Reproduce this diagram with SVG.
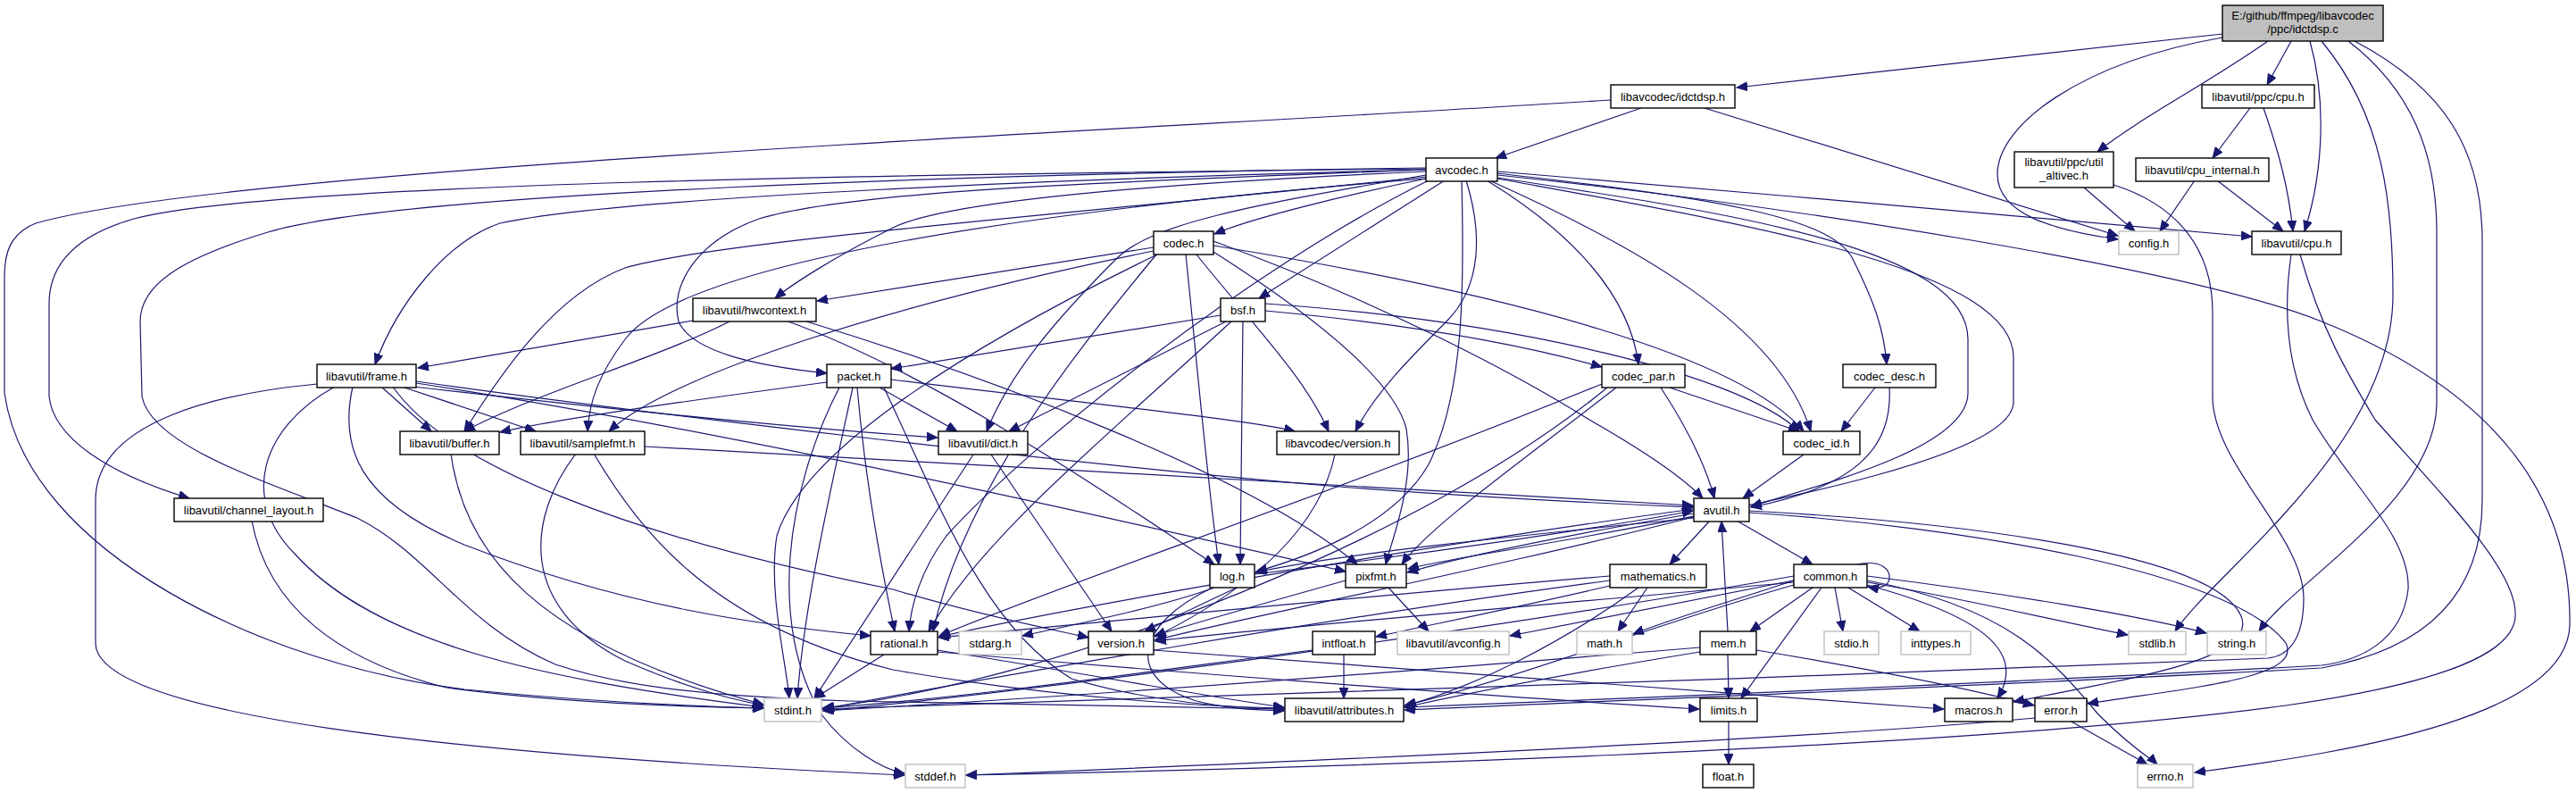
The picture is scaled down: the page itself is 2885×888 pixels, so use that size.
<svg xmlns="http://www.w3.org/2000/svg" width="2885" height="888" viewBox="0 0 2885 888">
<defs>
<marker id="a" markerUnits="userSpaceOnUse" markerWidth="13" markerHeight="11" refX="12" refY="5" orient="auto">
<path d="M0,0 L12,5 L0,10 z" fill="#191970" stroke="#191970" stroke-width="1"/>
</marker>
<style>
.n rect{fill:#fff;stroke:#000;stroke-width:1.4}
.n.g rect{stroke:#bfbfbf}
.n.r rect{fill:#bfbfbf}
text{font-family:"Liberation Sans",Arial,Helvetica,sans-serif;font-size:13px;text-anchor:middle;fill:#000}
#edges path{fill:none;stroke:#191970;stroke-width:1.2;marker-end:url(#a)}
</style>
</defs>
<rect width="2885" height="888" fill="#fff"/>
<g id="edges">
<path d="M2489,38 L1945,98"/>
<path d="M2489,42 C2330,70 2237,140 2237,195 C2237,240 2300,258 2372,268"/>
<path d="M2540,46 C2470,95 2400,130 2349,170"/>
<path d="M2566,46 L2539,95"/>
<path d="M2587,46 C2605,110 2603,190 2581,259"/>
<path d="M2600,46 C2670,130 2680,230 2680,330 C2680,500 2480,640 2436,707"/>
<path d="M2630,46 C2700,100 2729,170 2729,260 L2729,450 C2729,560 2570,650 2530,707"/>
<path d="M2637,46 C2740,100 2780,170 2780,270 L2780,560 C2780,680 2700,730 2600,748 C2300,765 1800,785 1573,795"/>
<path d="M1838,121 L1675,177"/>
<path d="M1909,121 L2372,264"/>
<path d="M1804,112 C1200,150 250,190 40,250 C10,262 5,285 5,310 L5,440 C30,620 300,745 520,772 C650,785 780,791 855,793"/>
<path d="M2520,121 L2478,177"/>
<path d="M2535,121 C2552,170 2563,210 2568,259"/>
<path d="M2458,202 L2419,259"/>
<path d="M2483,202 L2557,259"/>
<path d="M2334,210 L2391,259"/>
<path d="M2367,207 C2440,230 2478,280 2478,350 L2478,444 C2478,520 2580,600 2580,670 C2580,720 2560,735 2540,737 C2000,760 1200,785 921,794"/>
<path d="M2566,285 C2555,360 2565,420 2590,470 C2630,540 2700,600 2697,660 C2690,720 2640,740 2600,745 C2300,762 1800,783 1573,792"/>
<path d="M2576,285 C2600,370 2630,420 2660,470 C2740,560 2820,640 2817,690 C2815,740 2700,770 2560,790 C2200,840 1400,862 1082,868"/>
<path d="M1677,196 C2000,230 2450,300 2600,360 C2800,440 2880,560 2878,700 C2875,800 2650,840 2458,865"/>
<path d="M1677,192 C1950,215 2300,245 2522,265"/>
<path d="M1677,199 C1950,240 2204,280 2204,380 L2204,440 C2204,500 2050,540 1961,567"/>
<path d="M1677,200 C1950,250 2255,300 2255,400 L2255,450 C2255,510 2000,560 1780,600 C1680,618 1610,628 1577,637"/>
<path d="M1677,194 C1900,220 2050,240 2075,290 C2100,340 2110,370 2113,408"/>
<path d="M1668,202 C1820,270 1990,360 2028,483"/>
<path d="M1665,202 C1760,260 1825,330 1835,408"/>
<path d="M1618,202 L1410,334"/>
<path d="M1597,200 C1500,220 1400,245 1360,262"/>
<path d="M1597,192 C1300,205 1060,225 1000,255 C930,290 885,320 868,334"/>
<path d="M1597,190 C1200,200 700,220 560,250 C500,270 445,340 420,408"/>
<path d="M1597,189 C1000,195 300,205 150,245 C80,265 55,300 55,340 L55,444 C60,490 120,530 212,558"/>
<path d="M1597,188 C1100,195 450,215 300,260 C200,290 157,320 157,360 L159,444 C170,500 300,540 400,580 C480,620 520,700 622,744 C700,770 800,780 950,785 C1150,790 1350,792 1438,794"/>
<path d="M1597,198 C1200,240 800,270 700,300 C620,330 560,420 520,483"/>
<path d="M1597,200 C1100,240 760,300 700,380 C670,420 660,450 658,483"/>
<path d="M1597,196 C1400,230 1290,250 1250,290 C1180,360 1130,420 1105,483"/>
<path d="M1637,202 C1640,320 1640,440 1600,520 C1560,590 1460,625 1407,640"/>
<path d="M1600,202 C1400,300 1150,500 1060,600 C1030,640 1020,680 1018,707"/>
<path d="M1597,190 C1200,205 950,215 850,245 C780,270 750,320 760,360 C775,395 850,410 926,418"/>
<path d="M1642,202 C1660,260 1660,320 1620,360 C1580,400 1540,440 1518,483"/>
<path d="M1296,285 C1100,380 900,500 870,600 C860,660 880,740 884,782"/>
<path d="M1359,270 C1550,340 1700,420 1780,470 C1850,510 1890,540 1907,558"/>
<path d="M1292,277 L915,337"/>
<path d="M1328,285 C1340,400 1350,520 1365,632"/>
<path d="M1359,282 C1450,340 1560,420 1575,480 C1585,540 1560,600 1552,632"/>
<path d="M1295,285 C1200,400 1080,550 1045,707"/>
<path d="M1292,281 C1000,340 750,420 682,483"/>
<path d="M1359,275 C1700,330 1950,400 2020,483"/>
<path d="M1340,285 C1400,360 1460,420 1488,483"/>
<path d="M1375,359 L1130,483"/>
<path d="M1392,359 L1389,632"/>
<path d="M1380,359 C1250,480 1100,600 1040,707"/>
<path d="M1417,340 C1700,360 1950,420 2015,483"/>
<path d="M1417,348 C1600,365 1720,390 1794,411"/>
<path d="M1367,353 L998,413"/>
<path d="M1800,434 C1600,600 1200,760 921,793"/>
<path d="M1860,434 C1890,480 1910,520 1920,558"/>
<path d="M1794,430 C1500,550 1200,650 1052,712"/>
<path d="M1810,434 C1700,520 1600,590 1570,632"/>
<path d="M1870,434 L2015,483"/>
<path d="M2100,434 L2062,483"/>
<path d="M2116,434 C2120,500 2080,545 1961,568"/>
<path d="M2020,509 L1952,558"/>
<path d="M940,434 C880,550 860,700 920,800 C950,840 990,862 1013,866"/>
<path d="M955,434 C930,550 900,680 893,782"/>
<path d="M990,434 C1050,560 1100,700 1200,760 C1300,790 1400,793 1438,794"/>
<path d="M926,428 C760,450 620,470 560,484"/>
<path d="M985,434 L1072,483"/>
<path d="M960,434 C970,550 990,650 1002,707"/>
<path d="M998,425 C1200,450 1400,470 1450,483"/>
<path d="M1495,509 C1480,580 1420,650 1294,713"/>
<path d="M819,359 C740,400 600,440 520,483"/>
<path d="M776,359 L468,412"/>
<path d="M880,359 C1050,420 1250,560 1360,632"/>
<path d="M900,359 C1100,420 1400,530 1520,632"/>
<path d="M355,430 C250,440 107,470 107,560 L107,720 C107,800 500,845 1013,868"/>
<path d="M375,433 C290,480 270,560 330,620 C420,720 600,760 855,792"/>
<path d="M466,427 C700,460 1200,520 1500,545 C1700,560 1850,566 1897,568"/>
<path d="M427,433 L483,483"/>
<path d="M463,433 C700,460 900,480 1050,490"/>
<path d="M395,433 C380,500 400,560 520,610 C700,680 850,700 975,712"/>
<path d="M450,433 L600,483"/>
<path d="M466,429 C800,480 1200,570 1507,640"/>
<path d="M440,433 C500,520 700,600 1000,660 C1100,690 1180,705 1219,714"/>
<path d="M505,508 C520,620 600,720 855,789"/>
<path d="M645,508 C590,580 580,680 700,740 C780,775 830,785 855,790"/>
<path d="M722,500 C1100,520 1600,550 1896,566"/>
<path d="M665,508 C720,600 800,700 1000,750 C1200,785 1380,792 1438,793"/>
<path d="M1090,509 L912,782"/>
<path d="M1110,509 L1245,707"/>
<path d="M282,583 C300,680 380,740 500,770 C650,790 800,792 855,793"/>
<path d="M1945,583 L2030,632"/>
<path d="M1959,574 C2200,590 2500,640 2560,720 C2580,760 2450,770 2338,788"/>
<path d="M1897,570 C1600,610 1200,680 1052,713"/>
<path d="M1900,578 C1700,630 1400,690 1293,717"/>
<path d="M1959,572 C2200,585 2480,620 2510,690 C2530,740 2380,760 2255,786"/>
<path d="M1915,583 L1870,632"/>
<path d="M1897,580 C1700,600 1500,620 1406,641"/>
<path d="M1897,575 C1750,600 1650,620 1576,641"/>
<path d="M1360,658 C1300,680 1200,700 1145,712"/>
<path d="M1405,643 C1600,620 1800,590 1896,572"/>
<path d="M1358,658 C1270,700 1260,760 1340,785 C1380,795 1410,795 1438,796"/>
<path d="M1385,658 L1282,707"/>
<path d="M1555,658 L1600,707"/>
<path d="M1507,650 C1400,680 1330,700 1293,712"/>
<path d="M1803,650 C1500,690 1100,760 922,794"/>
<path d="M1845,658 L1812,707"/>
<path d="M1835,658 C1750,720 1650,770 1574,790"/>
<path d="M1803,645 C1500,670 1200,700 1051,714"/>
<path d="M1803,656 C1700,680 1600,700 1541,713"/>
<path d="M2091,650 C2250,680 2300,740 2350,800 C2390,840 2410,850 2416,856"/>
<path d="M2070,658 L2150,707"/>
<path d="M2040,658 L1950,782"/>
<path d="M2009,650 C1950,670 1880,690 1829,710"/>
<path d="M2009,645 C1700,700 1200,770 922,796"/>
<path d="M2055,658 L2064,707"/>
<path d="M2091,652 C2200,670 2300,695 2383,711"/>
<path d="M2091,645 C2250,665 2400,690 2471,709"/>
<path d="M2009,655 C1850,700 1700,760 1573,790"/>
<path d="M2091,655 C2220,690 2270,730 2237,782"/>
<path d="M2009,652 C1700,680 1400,705 1294,718"/>
<path d="M2009,650 C1850,680 1750,700 1691,712"/>
<path d="M2080,632 C2110,626 2117,640 2116,648 C2115,656 2106,660 2092,657"/>
<path d="M2030,658 L1960,707"/>
<path d="M990,733 L912,782"/>
<path d="M1050,730 C1400,760 1750,785 1903,794"/>
<path d="M1050,728 C1250,760 1380,785 1438,792"/>
<path d="M1292,728 C1700,760 2000,780 2177,794"/>
<path d="M1470,728 C1300,750 1100,780 922,793"/>
<path d="M1505,733 L1505,782"/>
<path d="M1935,733 L1936,782"/>
<path d="M1904,725 C1600,750 1200,780 922,796"/>
<path d="M1904,730 C1750,755 1650,775 1573,792"/>
<path d="M1967,728 C2100,750 2200,770 2278,790"/>
<path d="M1935,707 L1928,584"/>
<path d="M1936,807 L1936,856"/>
<path d="M2318,807 L2405,856"/>
<path d="M2279,804 C2000,830 1400,855 1082,868"/>
</g>
<g id="root" class="n r"><rect x="2489" y="6" width="180" height="40"/><text x="2579" y="21.5">E:/github/ffmpeg/libavcodec</text><text x="2579" y="36.5">/ppc/idctdsp.c</text></g>
<g id="idctdsp" class="n"><rect x="1804" y="95" width="139" height="26"/><text x="1873.5" y="112.5">libavcodec/idctdsp.h</text></g>
<g id="ppc_cpu" class="n"><rect x="2466" y="95" width="126" height="26"/><text x="2529" y="112.5">libavutil/ppc/cpu.h</text></g>
<g id="util_altivec" class="n"><rect x="2256" y="170" width="111" height="40"/><text x="2311.5" y="186">libavutil/ppc/util</text><text x="2311.5" y="201">_altivec.h</text></g>
<g id="cpu_internal" class="n"><rect x="2392" y="177" width="149" height="26"/><text x="2466.5" y="194.5">libavutil/cpu_internal.h</text></g>
<g id="avcodec" class="n"><rect x="1597" y="177" width="80" height="26"/><text x="1637" y="194.5">avcodec.h</text></g>
<g id="config" class="n g"><rect x="2373" y="259" width="67" height="26"/><text x="2406.5" y="276.5">config.h</text></g>
<g id="cpu" class="n"><rect x="2522" y="259" width="100" height="26"/><text x="2572" y="276.5">libavutil/cpu.h</text></g>
<g id="codec" class="n"><rect x="1292" y="259" width="67" height="26"/><text x="1325.5" y="276.5">codec.h</text></g>
<g id="hwcontext" class="n"><rect x="776" y="334" width="138" height="26"/><text x="845" y="351.5">libavutil/hwcontext.h</text></g>
<g id="bsf" class="n"><rect x="1367" y="334" width="50" height="26"/><text x="1392" y="351.5">bsf.h</text></g>
<g id="frame" class="n"><rect x="355" y="408" width="111" height="26"/><text x="410.5" y="425.5">libavutil/frame.h</text></g>
<g id="packet" class="n"><rect x="926" y="408" width="72" height="26"/><text x="962" y="425.5">packet.h</text></g>
<g id="codec_par" class="n"><rect x="1794" y="408" width="93" height="26"/><text x="1840.5" y="425.5">codec_par.h</text></g>
<g id="codec_desc" class="n"><rect x="2064" y="408" width="104" height="26"/><text x="2116" y="425.5">codec_desc.h</text></g>
<g id="buffer" class="n"><rect x="448" y="483" width="111" height="26"/><text x="503.5" y="500.5">libavutil/buffer.h</text></g>
<g id="samplefmt" class="n"><rect x="583" y="483" width="139" height="26"/><text x="652.5" y="500.5">libavutil/samplefmt.h</text></g>
<g id="dict" class="n"><rect x="1051" y="483" width="100" height="26"/><text x="1101" y="500.5">libavutil/dict.h</text></g>
<g id="lavc_version" class="n"><rect x="1430" y="483" width="137" height="26"/><text x="1498.5" y="500.5">libavcodec/version.h</text></g>
<g id="codec_id" class="n"><rect x="1997" y="483" width="86" height="26"/><text x="2040" y="500.5">codec_id.h</text></g>
<g id="channel_layout" class="n"><rect x="195" y="558" width="167" height="26"/><text x="278.5" y="575.5">libavutil/channel_layout.h</text></g>
<g id="avutil" class="n"><rect x="1897" y="558" width="62" height="26"/><text x="1928" y="575.5">avutil.h</text></g>
<g id="log" class="n"><rect x="1355" y="632" width="50" height="26"/><text x="1380" y="649.5">log.h</text></g>
<g id="pixfmt" class="n"><rect x="1507" y="632" width="68" height="26"/><text x="1541" y="649.5">pixfmt.h</text></g>
<g id="mathematics" class="n"><rect x="1803" y="632" width="108" height="26"/><text x="1857" y="649.5">mathematics.h</text></g>
<g id="common" class="n"><rect x="2009" y="632" width="82" height="26"/><text x="2050" y="649.5">common.h</text></g>
<g id="rational" class="n"><rect x="975" y="707" width="75" height="26"/><text x="1012.5" y="724.5">rational.h</text></g>
<g id="stdarg" class="n g"><rect x="1074" y="707" width="70" height="26"/><text x="1109" y="724.5">stdarg.h</text></g>
<g id="version" class="n"><rect x="1219" y="707" width="73" height="26"/><text x="1255.5" y="724.5">version.h</text></g>
<g id="intfloat" class="n"><rect x="1470" y="707" width="70" height="26"/><text x="1505" y="724.5">intfloat.h</text></g>
<g id="avconfig" class="n g"><rect x="1565" y="707" width="125" height="26"/><text x="1627.5" y="724.5">libavutil/avconfig.h</text></g>
<g id="math" class="n g"><rect x="1766" y="707" width="62" height="26"/><text x="1797" y="724.5">math.h</text></g>
<g id="mem" class="n"><rect x="1904" y="707" width="63" height="26"/><text x="1935.5" y="724.5">mem.h</text></g>
<g id="stdio" class="n g"><rect x="2043" y="707" width="61" height="26"/><text x="2073.5" y="724.5">stdio.h</text></g>
<g id="inttypes" class="n g"><rect x="2129" y="707" width="78" height="26"/><text x="2168" y="724.5">inttypes.h</text></g>
<g id="stdlib" class="n g"><rect x="2384" y="707" width="64" height="26"/><text x="2416" y="724.5">stdlib.h</text></g>
<g id="string" class="n g"><rect x="2472" y="707" width="66" height="26"/><text x="2505" y="724.5">string.h</text></g>
<g id="stdint" class="n g"><rect x="856" y="782" width="64" height="26"/><text x="888" y="799.5">stdint.h</text></g>
<g id="attributes" class="n"><rect x="1439" y="782" width="133" height="26"/><text x="1505.5" y="799.5">libavutil/attributes.h</text></g>
<g id="limits" class="n"><rect x="1904" y="782" width="64" height="26"/><text x="1936" y="799.5">limits.h</text></g>
<g id="macros" class="n"><rect x="2178" y="782" width="76" height="26"/><text x="2216" y="799.5">macros.h</text></g>
<g id="error" class="n"><rect x="2279" y="782" width="58" height="26"/><text x="2308" y="799.5">error.h</text></g>
<g id="stddef" class="n g"><rect x="1014" y="856" width="67" height="26"/><text x="1047.5" y="873.5">stddef.h</text></g>
<g id="float" class="n"><rect x="1907" y="856" width="57" height="26"/><text x="1935.5" y="873.5">float.h</text></g>
<g id="errno" class="n g"><rect x="2394" y="856" width="62" height="26"/><text x="2425" y="873.5">errno.h</text></g>
</svg>
